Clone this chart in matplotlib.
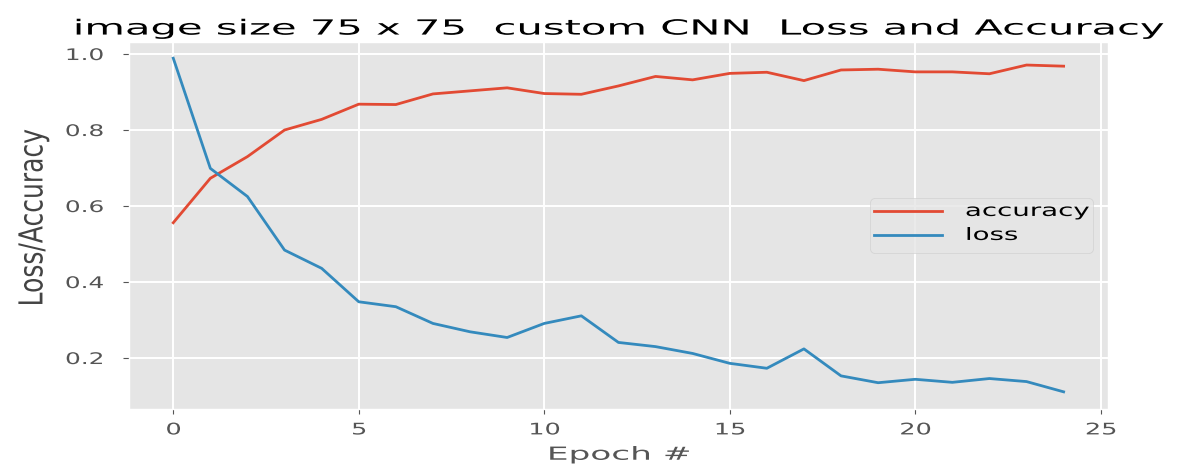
import matplotlib
matplotlib.use("Agg")
import matplotlib.pyplot as plt
from matplotlib import patheffects
from matplotlib.transforms import Affine2D

# training history, one value per epoch
epochs = list(range(25))
accuracy = [0.556, 0.673, 0.730, 0.800, 0.828, 0.868, 0.867, 0.895, 0.903,
            0.911, 0.896, 0.894, 0.916, 0.941, 0.932, 0.949, 0.952, 0.930,
            0.958, 0.960, 0.953, 0.953, 0.948, 0.971, 0.968]
loss = [0.989, 0.699, 0.625, 0.484, 0.436, 0.348, 0.335, 0.291, 0.269,
        0.254, 0.291, 0.311, 0.241, 0.230, 0.212, 0.186, 0.173, 0.224,
        0.153, 0.135, 0.144, 0.136, 0.146, 0.138, 0.111]

xticks = [0, 5, 10, 15, 20, 25]
yticks = [0.2, 0.4, 0.6, 0.8, 1.0]


class Stretch(patheffects.AbstractPathEffect):
    """Scale glyph outlines along the text line (sx) and across it (sy).

    anchor is "left", "center", "right" or a fixed x in glyph units
    (100 units per em) that stays in place.
    """

    def __init__(self, sx=1.0, sy=1.0, anchor="center", yref=0.0):
        super().__init__()
        self.sx, self.sy = sx, sy
        self.anchor = anchor
        self.yref = yref

    def draw_path(self, renderer, gc, tpath, affine, rgbFace=None):
        xs = tpath.vertices[:, 0]
        cx = 0.0
        if isinstance(self.anchor, (int, float)):
            cx = float(self.anchor)
        elif len(xs) and self.anchor == "center":
            cx = 0.5 * (xs.min() + xs.max())
        elif len(xs) and self.anchor == "right":
            cx = xs.max()
        pre = (Affine2D().translate(-cx, -self.yref)
               .scale(self.sx, self.sy).translate(cx, self.yref))
        renderer.draw_path(gc, tpath, pre + affine, rgbFace)


def main():
    plt.style.use("ggplot")
    fig = plt.figure(figsize=(11.8, 4.68), dpi=100)
    ax = fig.add_axes([0.1091, 0.1271, 0.830, 0.7842])

    ax.plot(epochs, accuracy, label="accuracy", linewidth=2)
    ax.plot(epochs, loss, label="loss", linewidth=2)

    ax.set_xticks(xticks)
    ax.set_yticks(yticks)
    ax.tick_params(axis="x", labelsize=11.5, length=3.5, pad=6.5)
    ax.tick_params(axis="y", labelsize=11.5, length=4.5, pad=27.5)
    ax.grid(color="white", linewidth=1.4)

    title = ax.set_title("image size 75 x 75  custom CNN  Loss and Accuracy",
                         fontsize=15, pad=5)
    title.set_path_effects([Stretch(sx=2.0)])

    xlabel = ax.set_xlabel("Epoch #", fontsize=13, labelpad=6)
    xlabel.set_path_effects([Stretch(sx=1.9)])

    ylabel = ax.set_ylabel("Loss/Accuracy", fontsize=18, color="#444444")
    ylabel.set_path_effects([Stretch(sy=1.32)])
    ax.yaxis.set_label_coords(-0.083, 0.52)

    # legend texts are squeezed vertically and widened about a shared point,
    # so the extra handletextpad leaves room for the wider glyphs
    leg = ax.legend(loc="center right", fontsize=18, handlelength=2.72,
                    handletextpad=1.4, labelspacing=0.0, borderpad=0.14,
                    borderaxespad=0.6)
    for t in leg.get_texts():
        t.set_path_effects([Stretch(sx=1.106, sy=0.68, anchor=451, yref=51)])

    fig.canvas.draw()
    for lab in ax.get_xticklabels():
        lab.set_path_effects([Stretch(sx=1.6)])
    for lab in ax.get_yticklabels():
        lab.set_horizontalalignment("center")
        lab.set_path_effects([Stretch(sx=1.55)])

    fig.savefig("out.png", dpi=100)


if __name__ == "__main__":
    main()
